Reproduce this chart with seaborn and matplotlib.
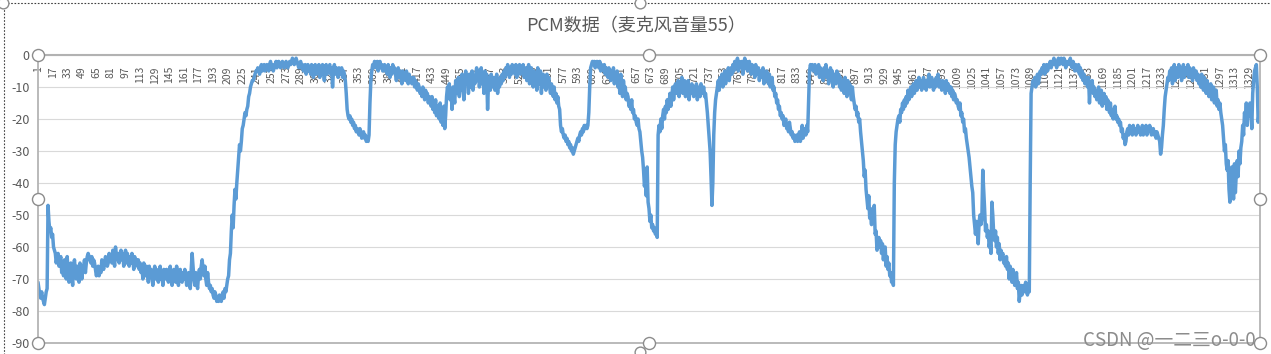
import numpy as np
import pandas as pd
import matplotlib
matplotlib.use("Agg")
import matplotlib.pyplot as plt
import seaborn as sns
from matplotlib.patches import Rectangle

# ---------------- data ----------------
chart_title = "PCM数据（麦克风音量55）"
watermark = "CSDN @一二三o-0-0"

pcm_values = [
    -71, -73, -75, -76, -74, -76, -77, -78, -76, -74,
    -73, -47, -52, -55, -54, -57, -56, -60, -61, -62,
    -65, -63, -62, -66, -64, -63, -68, -65, -69, -64,
    -66, -70, -63, -68, -71, -66, -65, -69, -72, -66,
    -64, -68, -70, -66, -67, -71, -65, -66, -70, -67,
    -66, -64, -68, -65, -63, -62, -63, -64, -65, -63,
    -66, -64, -65, -67, -69, -68, -66, -69, -67, -68,
    -64, -66, -67, -65, -63, -64, -66, -65, -62, -64,
    -63, -65, -61, -63, -66, -60, -63, -64, -62, -65,
    -63, -61, -64, -62, -66, -63, -61, -65, -62, -64,
    -66, -63, -65, -62, -64, -67, -63, -65, -64, -66,
    -64, -67, -65, -68, -66, -70, -65, -67, -69, -66,
    -68, -71, -66, -69, -67, -70, -72, -68, -66, -70,
    -67, -69, -71, -68, -66, -70, -69, -72, -67, -68,
    -70, -67, -69, -71, -68, -66, -70, -72, -69, -67,
    -68, -71, -66, -69, -72, -68, -67, -70, -71, -68,
    -70, -67, -69, -72, -71, -68, -70, -73, -67, -62,
    -66, -70, -72, -68, -71, -73, -69, -67, -70, -66,
    -64, -67, -69, -66, -70, -72, -68, -71, -73, -72,
    -74, -73, -75, -76, -74, -75, -77, -76, -77, -75,
    -76, -77, -75, -74, -76, -73, -74, -72, -70, -69,
    -64, -62, -55, -50, -54, -47, -42, -45, -40, -36,
    -32, -28, -30, -27, -23, -22, -20, -18, -19, -17,
    -16, -13, -12, -10, -9, -8, -8, -7, -6, -5,
    -5, -4, -5, -6, -4, -3, -5, -4, -3, -5,
    -4, -3, -4, -5, -3, -2, -4, -3, -5, -4,
    -3, -2, -4, -3, -2, -3, -4, -3, -2, -3,
    -4, -3, -2, -3, -4, -3, -2, -3, -2, -1,
    -2, -3, -2, -1, -2, -3, -4, -3, -2, -4,
    -3, -5, -4, -3, -6, -4, -3, -5, -4, -6,
    -3, -5, -7, -4, -3, -6, -4, -5, -3, -7,
    -4, -6, -3, -5, -8, -4, -3, -6, -5, -4,
    -3, -6, -4, -10, -5, -3, -6, -4, -5, -7,
    -4, -6, -5, -4, -7, -5, -6, -8, -12, -17,
    -19, -20, -19, -21, -20, -22, -21, -23, -22, -24,
    -23, -24, -25, -23, -24, -26, -25, -24, -26, -25,
    -27, -26, -27, -25, -15, -8, -5, -3, -4, -2,
    -3, -4, -2, -5, -3, -2, -4, -3, -5, -4,
    -3, -5, -4, -6, -3, -5, -7, -4, -6, -3,
    -5, -4, -6, -8, -5, -4, -7, -5, -6, -9,
    -5, -7, -6, -8, -5, -7, -9, -6, -8, -7,
    -9, -8, -7, -10, -8, -9, -11, -9, -10, -12,
    -11, -13, -10, -12, -14, -11, -13, -12, -15, -13,
    -14, -16, -13, -17, -15, -18, -14, -19, -16, -18,
    -20, -15, -21, -17, -22, -16, -23, -19, -13, -10,
    -12, -9, -14, -11, -17, -10, -13, -15, -8, -12,
    -10, -7, -13, -9, -11, -6, -10, -14, -8, -5,
    -9, -7, -12, -6, -10, -8, -5, -11, -7, -9,
    -6, -4, -8, -5, -10, -7, -4, -9, -6, -12,
    -5, -8, -6, -17, -9, -7, -11, -6, -10, -8,
    -7, -11, -9, -6, -12, -8, -10, -7, -9, -6,
    -8, -5, -7, -4, -6, -3, -5, -7, -4, -6,
    -3, -5, -4, -6, -3, -7, -4, -5, -3, -6,
    -4, -5, -3, -7, -6, -4, -8, -5, -3, -9,
    -6, -4, -7, -10, -5, -8, -6, -11, -4, -7,
    -9, -5, -12, -7, -6, -10, -8, -11, -6, -9,
    -7, -10, -12, -9, -11, -13, -10, -14, -12, -15,
    -13, -16, -17, -22, -24, -23, -25, -26, -25, -27,
    -26, -28, -27, -29, -28, -30, -29, -31, -30, -29,
    -28, -27, -26, -27, -25, -24, -25, -23, -24, -22,
    -23, -22, -23, -22, -18, -10, -4, -3, -2, -3,
    -2, -4, -3, -2, -3, -4, -2, -5, -3, -4,
    -5, -3, -6, -4, -5, -7, -4, -6, -8, -5,
    -7, -4, -9, -6, -8, -5, -10, -7, -12, -6,
    -9, -13, -8, -11, -10, -14, -12, -13, -16, -15,
    -17, -14, -18, -17, -20, -19, -21, -22, -20, -23,
    -24, -27, -30, -32, -36, -41, -38, -44, -35, -46,
    -48, -52, -50, -54, -53, -55, -54, -56, -55, -57,
    -25, -22, -24, -20, -23, -19, -17, -20, -16, -18,
    -14, -17, -15, -12, -16, -13, -10, -14, -11, -9,
    -12, -10, -8, -13, -9, -11, -7, -12, -10, -8,
    -13, -9, -11, -8, -14, -10, -12, -9, -11, -13,
    -10, -12, -9, -14, -11, -10, -13, -9, -12, -11,
    -10, -13, -12, -15, -18, -22, -26, -30, -38, -47,
    -40, -25, -18, -14, -12, -10, -8, -11, -7, -9,
    -6, -10, -8, -5, -9, -6, -7, -4, -8, -5,
    -4, -6, -3, -5, -2, -4, -3, -1, -5, -2,
    -3, -4, -2, -6, -3, -1, -4, -2, -5, -3,
    -2, -4, -6, -3, -5, -4, -7, -3, -6, -5,
    -4, -8, -5, -7, -6, -4, -9, -6, -8, -5,
    -7, -9, -6, -10, -8, -7, -11, -10, -13, -12,
    -15, -14, -17, -16, -19, -18, -20, -19, -22, -21,
    -20, -23, -22, -24, -21, -23, -25, -24, -26, -25,
    -27, -26, -25, -27, -26, -24, -27, -25, -22, -26,
    -24, -23, -25, -22, -24, -14, -5, -3, -4, -3,
    -5, -4, -3, -6, -4, -5, -3, -7, -4, -6,
    -5, -8, -4, -6, -3, -7, -5, -9, -6, -4,
    -8, -5, -10, -6, -7, -9, -5, -8, -6, -10,
    -7, -11, -8, -9, -12, -7, -10, -13, -8, -11,
    -9, -12, -14, -10, -13, -15, -17, -16, -19, -18,
    -21, -20, -24, -27, -30, -33, -38, -36, -42, -45,
    -48, -44, -51, -50, -53, -48, -52, -47, -56, -55,
    -61, -59, -57, -60, -58, -62, -59, -64, -61, -60,
    -66, -63, -67, -65, -69, -68, -71, -70, -72, -40,
    -28, -24, -22, -20, -19, -21, -17, -18, -15, -17,
    -14, -16, -13, -15, -11, -14, -12, -10, -13, -11,
    -9, -12, -10, -8, -11, -9, -7, -10, -8, -11,
    -9, -7, -10, -8, -11, -9, -8, -6, -10, -8,
    -7, -9, -11, -8, -10, -7, -9, -6, -10, -8,
    -9, -11, -8, -10, -9, -12, -8, -11, -9, -10,
    -12, -10, -13, -11, -14, -12, -13, -15, -14, -16,
    -17, -15, -19, -18, -21, -20, -24, -23, -26, -28,
    -30, -32, -35, -38, -41, -43, -50, -53, -56, -52,
    -55, -59, -52, -50, -53, -51, -36, -42, -48, -55,
    -53, -57, -55, -60, -58, -62, -46, -50, -56, -58,
    -55, -60, -57, -62, -59, -64, -61, -63, -62, -65,
    -64, -66, -63, -67, -65, -70, -66, -68, -71, -67,
    -69, -72, -70, -68, -73, -71, -77, -74, -72, -75,
    -73, -72, -74, -71, -73, -75, -72, -74, -40, -12,
    -10, -8, -9, -7, -10, -8, -6, -9, -7, -5,
    -6, -4, -5, -3, -6, -4, -3, -5, -4, -3,
    -2, -4, -3, -2, -1, -3, -2, -4, -2, -1,
    -3, -2, -1, -2, -3, -1, -2, -4, -2, -3,
    -2, -3, -1, -3, -4, -2, -3, -5, -3, -4,
    -5, -3, -6, -4, -7, -5, -8, -6, -9, -7,
    -8, -10, -7, -15, -9, -11, -8, -12, -10, -13,
    -11, -14, -12, -10, -15, -13, -11, -16, -14, -12,
    -15, -13, -17, -14, -16, -18, -15, -19, -17, -20,
    -18, -16, -20, -19, -21, -20, -22, -21, -24, -23,
    -26, -25, -28, -27, -24, -23, -25, -22, -24, -23,
    -25, -22, -24, -23, -25, -24, -22, -24, -23, -25,
    -24, -22, -25, -23, -24, -22, -25, -23, -24, -22,
    -23, -25, -24, -23, -25, -24, -26, -24, -25, -26,
    -27, -31, -29, -25, -22, -17, -13, -11, -9, -7,
    -8, -5, -7, -4, -9, -6, -3, -8, -5, -4,
    -7, -3, -6, -4, -8, -5, -3, -7, -4, -6,
    -5, -3, -7, -4, -6, -5, -8, -4, -6, -7,
    -5, -8, -6, -9, -7, -10, -6, -8, -11, -7,
    -9, -12, -8, -10, -13, -11, -9, -14, -12, -10,
    -15, -13, -11, -16, -14, -17, -15, -18, -20, -22,
    -26, -30, -28, -34, -36, -33, -42, -46, -38, -35,
    -40, -45, -34, -43, -37, -33, -38, -30, -34, -29,
    -27, -22, -25, -18, -20, -15, -22, -17, -19, -15,
    -17, -23, -12, -8, -5, -4, -3, -10, -21, -18, -20,
]

categories = list(range(1, len(pcm_values) + 1))
x_tick_positions = categories[::16]
x_tick_labels = [str(c) for c in x_tick_positions]
y_ticks = [0, -10, -20, -30, -40, -50, -60, -70, -80, -90]

# ---------------- style ----------------
sns.set_theme(style="white")
plt.rcParams['font.family'] = ['Noto Sans CJK SC', 'DejaVu Sans']

W, H = 1271, 354
fig = plt.figure(figsize=(W / 100, H / 100), dpi=100)
fig.patch.set_facecolor('white')

# decorative chart-area frame (selection look)
deco = fig.add_axes([0, 0, 1, 1])
deco.set_xlim(0, W)
deco.set_ylim(H, 0)
deco.axis('off')
deco.plot([4, 4], [3, H], ls=(0, (1.5, 1.5)), color='#404040', lw=0.8)
deco.plot([4, W], [3, 3], ls=(0, (1.5, 1.5)), color='#404040', lw=0.8)
deco.scatter([3, 640, 640], [3, 3, 352], s=60, facecolor='white',
             edgecolor='#8c8c8c', linewidths=1, zorder=5, clip_on=False)

L, R, T, B = 38, 1260, 55, 343
ax = fig.add_axes([L / W, 1 - B / H, (R - L) / W, (B - T) / H])
ax.set_facecolor('white')

df = pd.DataFrame({'category': categories, 'value': pcm_values})
sns.lineplot(data=df, x='category', y='value', color='#5b9bd5',
             linewidth=2.5, ax=ax, solid_joinstyle='round', zorder=3)

ax.set_ylim(-90, 0)
ax.set_xlim(1, len(categories))
ax.set_yticks(y_ticks)
ax.set_yticklabels([str(v) for v in y_ticks])
ax.set_xticks(x_tick_positions)
ax.set_xticklabels(x_tick_labels)
ax.set_xlabel('')
ax.set_ylabel('')

ax.grid(axis='y', color='#d9d9d9', lw=0.8)
ax.grid(axis='x', visible=False)
ax.set_axisbelow(True)

for s in ['top', 'right', 'left']:
    ax.spines[s].set_visible(False)
ax.spines['bottom'].set_position(('data', 0))
ax.spines['bottom'].set_color('#a6a6a6')
ax.spines['bottom'].set_linewidth(1.5)
ax.spines['bottom'].set_zorder(2)

ax.tick_params(axis='x', length=0, pad=8, labelsize=7.5,
               labelcolor='#595959', labelrotation=90)
ax.tick_params(axis='y', length=0, pad=6, labelsize=9,
               labelcolor='#595959')

# plot-area border
ax.add_patch(Rectangle((0, 0), 1, 1, transform=ax.transAxes, fill=False,
                       ec='#b4b4b4', lw=1.3, clip_on=False, zorder=4))
# selection handles
ax.scatter([0, 0.5, 1, 0, 1, 0, 0.5, 1], [1, 1, 1, 0.5, 0.5, 0, 0, 0],
           transform=ax.transAxes, s=75, facecolor='white',
           edgecolor='#8c8c8c', linewidths=1, clip_on=False, zorder=10)
ax.set_ylim(-90, 0)
ax.set_xlim(1, len(categories))

fig.text(636 / W, 1 - 26 / H, chart_title, ha='center', va='center',
         fontsize=13, color='#595959')
fig.text(1256 / W, 1 - 341 / H, watermark, ha='right', va='center',
         fontsize=13.5, color='#8c8c8c')

fig.savefig('out.png', dpi=100, facecolor='white')
